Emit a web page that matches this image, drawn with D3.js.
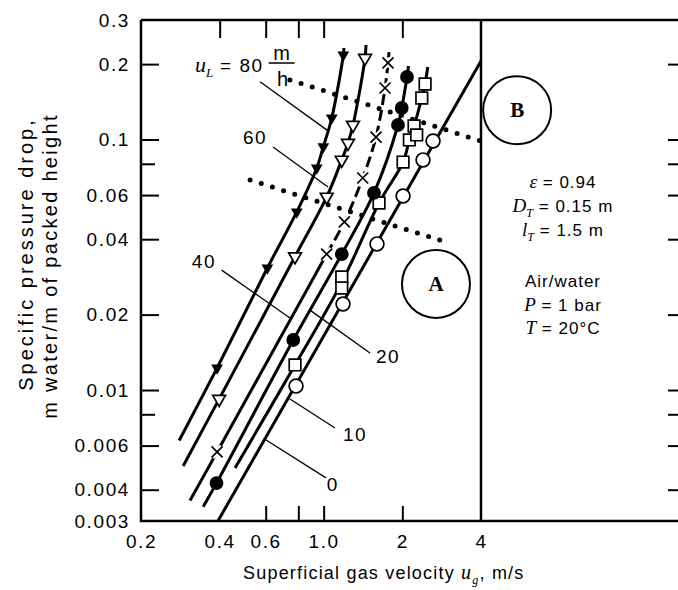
<!DOCTYPE html>
<html>
<head>
<meta charset="utf-8">
<script src="https://cdn.jsdelivr.net/npm/d3@7"></script>
<style>
  body { margin: 0; background: #fff; }
  svg { display: block; }
  text { font-family: "Liberation Sans", Arial, sans-serif; fill: #000; }
  .serif { font-family: "Liberation Serif", "Times New Roman", serif; }
</style>
</head>
<body>
<svg id="chart" width="678" height="590"></svg>
<script>
// Specific pressure drop of a packed column against gas velocity, for several liquid loads

// tick values and labels
var xLabelVals = [0.2, 0.4, 0.6, 1.0, 2, 4],
    xLabelText = ['0.2', '0.4', '0.6', '1.0', '2', '4'],
    xTopTicks = [0.4, 0.6, 0.8, 1.0, 2],
    xBottomTicks = [0.6, 0.8, 1.0, 2];
var yLabelVals = [0.3, 0.2, 0.1, 0.06, 0.04, 0.02, 0.01, 0.006, 0.004, 0.003],
    yLabelText = ['0.3', '0.2', '0.1', '0.06', '0.04', '0.02', '0.01', '0.006', '0.004', '0.003'],
    yMajorTicks = [0.2, 0.1, 0.06, 0.04, 0.02, 0.01, 0.006, 0.004],
    yMinorTicks = [0.08, 0.008];

// liquid loads u_L in m/h
var liquidLoads = [0, 10, 20, 40, 60, 80];

// drawn curves, [u_g m/s, dp m/m]
var curve0  = [[0.394, 0.003], [4.0, 0.206]];
var curve10 = [[0.458, 0.00488], [0.777, 0.01259], [1.173, 0.0269], [1.629, 0.0558], [2.013, 0.0813], [2.128, 0.0996], [2.218, 0.1132], [2.374, 0.1465], [2.444, 0.1666], [2.502, 0.1947]];
var curve20 = [[0.346, 0.00342], [0.389, 0.00425], [0.765, 0.01584], [1.173, 0.0349], [1.558, 0.0612], [1.925, 0.1143], [1.989, 0.1336], [2.084, 0.1777], [2.112, 0.1965]];
var curve40 = [[0.308, 0.00362], [0.391, 0.00566], [1.027, 0.0349], [1.2, 0.0469], [1.411, 0.0702], [1.586, 0.1023], [1.717, 0.1606], [1.763, 0.2021], [1.779, 0.2235]];
var curve60 = [[0.290, 0.00497], [0.398, 0.0092], [0.777, 0.0341], [1.027, 0.059], [1.173, 0.0829], [1.239, 0.0968], [1.295, 0.1143], [1.44, 0.2116], [1.452, 0.2384]];
var curve80 = [[0.280, 0.00629], [0.391, 0.01225], [0.609, 0.0307], [0.789, 0.0514], [0.941, 0.077], [0.997, 0.0936], [1.074, 0.1219], [1.189, 0.2175], [1.195, 0.232]];

// measured points
var points0  = [[0.784, 0.01037], [1.186, 0.02205], [1.6, 0.0383], [2.013, 0.0595], [2.4, 0.0829], [2.622, 0.0987]];
var points10 = [[0.777, 0.01259], [1.173, 0.02826], [1.173, 0.02554], [1.629, 0.0558], [2.013, 0.0813], [2.128, 0.0996], [2.218, 0.1132], [2.27, 0.1043], [2.374, 0.1465], [2.444, 0.1666]];
var points20 = [[0.389, 0.00425], [0.765, 0.01584], [1.173, 0.0349], [1.558, 0.0612], [1.925, 0.1143], [1.989, 0.1336], [2.084, 0.1777]];
var points40 = [[0.391, 0.00566], [1.027, 0.0349], [1.2, 0.0469], [1.411, 0.0702], [1.586, 0.1023], [1.717, 0.1606], [1.763, 0.2021]];
var points60 = [[0.398, 0.0092], [0.777, 0.0341], [1.027, 0.059], [1.173, 0.0829], [1.239, 0.0968], [1.295, 0.1143], [1.44, 0.2116]];
var points80 = [[0.391, 0.01225], [0.609, 0.0307], [0.789, 0.0514], [0.941, 0.077], [0.997, 0.0936], [1.074, 0.1219], [1.189, 0.2175]];

// loading (A) and flooding (B) lines
var loadingLine  = [[0.523, 0.0689], [3.02, 0.0386]];
var floodingLine = [[0.743, 0.173], [4.33, 0.096]];
var circleA = [2.69, 0.0265], circleB = [5.50, 0.131];

// load labels and their leader lines, same order as liquidLoads
var labelAt = [[1.027, 0.00395], [1.186, 0.00626], [1.586, 0.01282], [0.313, 0.0307], [0.491, 0.096], [0.322, 0.186]];
var leaders = [
  [[1.021, 0.00446], [0.602, 0.00632]],
  [[1.105, 0.00705], [0.743, 0.00921]],
  [[1.504, 0.01405], [0.895, 0.0207]],
  [[0.407, 0.0301], [0.743, 0.0194]],
  [[0.640, 0.0934], [1.039, 0.0646]],
  [[0.571, 0.170], [1.03, 0.109]]
];

var W = 678, H = 590;
var svg = d3.select('#chart');

var x = d3.scaleLog().domain([0.2, 4]).range([141, 481]);
var y = d3.scaleLog().domain([0.003, 0.3]).range([521, 20]);

// frame: plot box continues to the right page edge
svg.append('path')
   .attr('d', 'M' + x(0.2) + ',' + y(0.3) + 'H' + W +
              'M' + x(0.2) + ',' + y(0.3) + 'V' + y(0.003) + 'H' + W +
              'M' + x(4) + ',' + y(0.3) + 'V' + y(0.003))
   .attr('fill', 'none').attr('stroke', '#000').attr('stroke-width', 2.5);

function tickAxis(axis, tr) {
	var g = svg.append('g').attr('transform', tr).call(axis);
	g.select('.domain').remove();
	g.selectAll('.tick line').attr('stroke', '#000').attr('stroke-width', 2);
	return g;
}
tickAxis(d3.axisLeft(y).tickValues(yMajorTicks).tickSize(-18).tickFormat(''), 'translate(' + x(0.2) + ',0)');
tickAxis(d3.axisLeft(y).tickValues(yMinorTicks).tickSize(-14).tickFormat(''), 'translate(' + x(0.2) + ',0)');
tickAxis(d3.axisTop(x).tickValues(xTopTicks).tickSize(-18).tickFormat(''), 'translate(0,' + y(0.3) + ')');
tickAxis(d3.axisBottom(x).tickValues(xBottomTicks).tickSize(-15).tickFormat(''), 'translate(0,' + y(0.003) + ')');
// ticks of the neighbouring plot at the right edge
tickAxis(d3.axisRight(y).tickValues(yMajorTicks.concat(yMinorTicks)).tickSize(-22).tickFormat(''), 'translate(' + (W + 12) + ',0)');

// tick labels
var yl = svg.append('g').attr('transform', 'translate(' + x(0.2) + ',0)')
   .call(d3.axisLeft(y).tickValues(yLabelVals).tickSize(0).tickPadding(11)
           .tickFormat(function(d) { return yLabelText[yLabelVals.indexOf(d)]; }));
yl.select('.domain').remove();
yl.selectAll('text').attr('font-size', 19).attr('font-family', null).style('letter-spacing', '1.6px');

var xl = svg.append('g').attr('transform', 'translate(0,' + y(0.003) + ')')
   .call(d3.axisBottom(x).tickValues(xLabelVals).tickSize(0).tickPadding(14)
           .tickFormat(function(d) { return xLabelText[xLabelVals.indexOf(d)]; }));
xl.select('.domain').remove();
xl.selectAll('text').attr('font-size', 19).attr('font-family', null).style('letter-spacing', '1.6px');

// axis titles
var xt = svg.append('text').attr('x', 243).attr('y', 579).attr('font-size', 18).style('letter-spacing', '1.2px');
xt.append('tspan').text('Superficial gas velocity ');
xt.append('tspan').attr('class', 'serif').attr('font-style', 'italic').attr('font-size', 20).text('u');
xt.append('tspan').attr('class', 'serif').attr('font-style', 'italic').attr('font-size', 12).attr('dy', 5).text('g');
xt.append('tspan').attr('dy', -5).text(', m/s');

svg.append('text').attr('transform', 'translate(33,254) rotate(-90)')
   .attr('text-anchor', 'middle').attr('font-size', 20).style('letter-spacing', '3px')
   .text('Specific pressure drop,');
svg.append('text').attr('transform', 'translate(57,266) rotate(-90)')
   .attr('text-anchor', 'middle').attr('font-size', 20).style('letter-spacing', '2.3px')
   .text('m water/m of packed height');

// loading / flooding dotted lines
var straight = d3.line().x(function(d) { return x(d[0]); }).y(function(d) { return y(d[1]); });
[loadingLine, floodingLine].forEach(function(l) {
	svg.append('path').attr('d', straight(l))
	   .attr('fill', 'none').attr('stroke', '#000').attr('stroke-width', 5)
	   .attr('stroke-linecap', 'round').attr('stroke-dasharray', '0 11.7');
});

// leaders and load labels
leaders.forEach(function(l) {
	svg.append('path').attr('d', straight(l))
	   .attr('stroke', '#000').attr('stroke-width', 1.3);
});
liquidLoads.forEach(function(v, i) {
	if (v === 80) return;
	svg.append('text').attr('x', x(labelAt[i][0])).attr('y', y(labelAt[i][1]))
	   .attr('font-size', 19).style('letter-spacing', '1.5px').text(v);
});
// u_L = 80 m/h
var l80 = svg.append('text').attr('x', x(labelAt[5][0])).attr('y', y(labelAt[5][1])).attr('font-size', 19);
l80.append('tspan').attr('class', 'serif').attr('font-style', 'italic').attr('font-size', 22).text('u');
l80.append('tspan').attr('class', 'serif').attr('font-style', 'italic').attr('font-size', 13).attr('dy', 5).text('L');
l80.append('tspan').attr('dy', -5).style('letter-spacing', '1.5px').text(' = 80');
var bb = l80.node().getBBox(), fx = bb.x + bb.width + 5, fy = y(labelAt[5][1]);
svg.append('line').attr('x1', fx).attr('x2', fx + 26).attr('y1', fy - 9).attr('y2', fy - 9)
   .attr('stroke', '#000').attr('stroke-width', 1.5);
svg.append('text').attr('x', fx + 13).attr('y', fy - 12).attr('text-anchor', 'middle').attr('font-size', 20).text('m');
svg.append('text').attr('x', fx + 14).attr('y', fy + 14).attr('text-anchor', 'middle').attr('font-size', 20).text('h');

// curves
var curved = d3.line().x(function(d) { return x(d[0]); }).y(function(d) { return y(d[1]); })
               .curve(d3.curveCatmullRom.alpha(0.5));
function drawCurve(pts, dash) {
	svg.append('path').attr('d', curved(pts))
	   .attr('fill', 'none').attr('stroke', '#000').attr('stroke-width', 3)
	   .attr('stroke-dasharray', dash || null);
}
drawCurve(curve0); drawCurve(curve10); drawCurve(curve20);
drawCurve(curve40.slice(0, 3)); drawCurve(curve40.slice(2), '11 5');
drawCurve(curve60); drawCurve(curve80);

// markers
function markers(pts, kind) {
	var g = svg.append('g');
	var sel = g.selectAll('path').data(pts).enter().append('path')
	   .attr('transform', function(d) {
	   		return 'translate(' + x(d[0]) + ',' + y(d[1]) + ')' + (kind.indexOf('Tri') >= 0 ? ' rotate(180)' : '');
	   });
	if (kind === 'openCircle' || kind === 'filledCircle') sel.attr('d', d3.symbol(d3.symbolCircle, 150)());
	if (kind === 'openSquare') sel.attr('d', d3.symbol(d3.symbolSquare, 135)());
	if (kind === 'openTri') sel.attr('d', d3.symbol(d3.symbolTriangle, 70)());
	if (kind === 'filledTri') sel.attr('d', d3.symbol(d3.symbolTriangle, 60)());
	if (kind === 'cross') {
		sel.attr('d', 'M-5,-5L5,5M-5,5L5,-5').attr('stroke', '#fff').attr('stroke-width', 6);
		g.selectAll('path.x').data(pts).enter().append('path').attr('class', 'x')
		 .attr('transform', function(d) { return 'translate(' + x(d[0]) + ',' + y(d[1]) + ')'; })
		 .attr('d', 'M-5.5,-5.5L5.5,5.5M-5.5,5.5L5.5,-5.5').attr('stroke', '#000').attr('stroke-width', 1.7);
		return;
	}
	var filled = kind.indexOf('filled') === 0;
	sel.attr('fill', filled ? '#000' : '#fff').attr('stroke', '#000').attr('stroke-width', filled ? 0 : 1.7);
}
markers(points0, 'openCircle');
markers(points10, 'openSquare');
markers(points20, 'filledCircle');
markers(points40, 'cross');
markers(points60, 'openTri');
markers(points80, 'filledTri');

// circled A and B
[[circleA, 'A'], [circleB, 'B']].forEach(function(c) {
	svg.append('circle').attr('cx', x(c[0][0])).attr('cy', y(c[0][1])).attr('r', 34)
	   .attr('fill', 'none').attr('stroke', '#000').attr('stroke-width', 2);
	svg.append('text').attr('class', 'serif').attr('x', x(c[0][0])).attr('y', y(c[0][1]) + 7)
	   .attr('text-anchor', 'middle').attr('font-size', 21).attr('font-weight', 'bold').text(c[1]);
});

// conditions
var rows = [
	[['ε', true], [' = 0.94', false]],
	[['D', true], ['T', 'sub'], [' = 0.15 m', false]],
	[['l', true], ['T', 'sub'], [' = 1.5 m', false]],
	[['Air/water', false]],
	[['P', true], [' = 1 bar', false]],
	[['T', true], [' = 20°C', false]]
];
var rowY = [188, 212, 236, 287, 311, 334];
rows.forEach(function(r, i) {
	var t = svg.append('text').attr('x', 563).attr('y', rowY[i]).attr('text-anchor', 'middle').attr('font-size', 17);
	var shifted = false;
	r.forEach(function(p) {
		var s = t.append('tspan').text(p[0]);
		if (p[1]) s.attr('class', 'serif').attr('font-style', 'italic').attr('font-size', p[1] === 'sub' ? 12 : 19);
		if (p[1] === 'sub') { s.attr('dy', 5); shifted = true; }
		else if (shifted) { s.attr('dy', -5); shifted = false; }
		if (!p[1]) s.style('letter-spacing', '1px');
	});
});
</script>
</body>
</html>
